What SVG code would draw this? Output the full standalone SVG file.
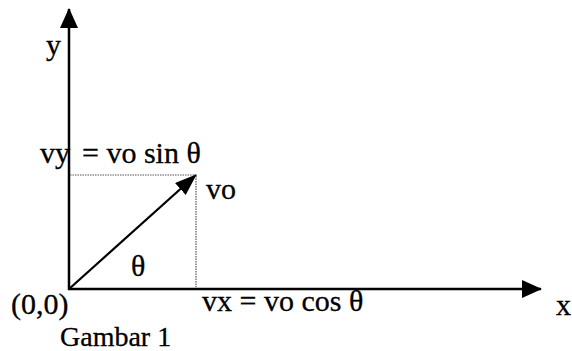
<svg xmlns="http://www.w3.org/2000/svg" width="572" height="351" viewBox="0 0 572 351">
<style>
text{font-family:"Liberation Serif","Times New Roman",serif;font-size:30px;fill:#000;stroke:#000;stroke-width:0.3}
.cap{font-size:28px}
.axis{stroke:#000;stroke-width:2.5;fill:none}
.vec{stroke:#000;stroke-width:2.2;fill:none}
.dot{stroke:#555;stroke-width:1.2;stroke-dasharray:1.5 1;fill:none}
</style>
<defs>
<marker id="ah" markerUnits="userSpaceOnUse" markerWidth="20" markerHeight="18" refX="19" refY="9" orient="auto">
<path d="M0,0 L20,9 L0,18 z" fill="#000"/>
</marker>
<marker id="vh" markerUnits="userSpaceOnUse" markerWidth="22" markerHeight="16" refX="21" refY="8" orient="auto">
<path d="M0,0 L22,8 L0,16 z" fill="#000"/>
</marker>
</defs>
<g id="connectors">
<line class="axis" x1="69" y1="290" x2="69" y2="9" marker-end="url(#ah)"/>
<line class="axis" x1="68" y1="289" x2="541" y2="289" marker-end="url(#ah)"/>
<line class="vec" x1="69" y1="289" x2="196" y2="175" marker-end="url(#vh)"/>
<line class="dot" x1="70" y1="175" x2="194" y2="175"/>
<line class="dot" x1="196" y1="176" x2="196" y2="287"/>
</g>
<g id="label-y"><text x="46" y="55">y</text></g>
<g id="label-x"><text x="556" y="315">x</text></g>
<g id="label-vy"><text x="40" y="163">vy<tspan x="82">= vo sin θ</tspan></text></g>
<g id="label-vo"><text x="206" y="199">vo</text></g>
<g id="label-theta"><text x="131" y="276">θ</text></g>
<g id="label-origin"><text x="11" y="314">(0,0)</text></g>
<g id="label-vx"><text x="202" y="311">vx = vo cos θ</text></g>
<g id="caption"><text class="cap" x="60" y="346">Gambar 1</text></g>
</svg>
